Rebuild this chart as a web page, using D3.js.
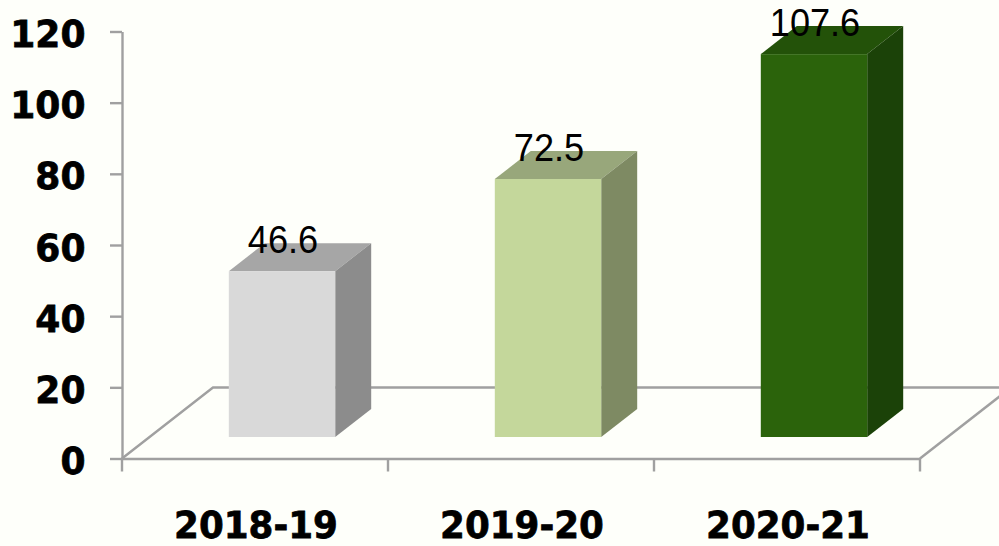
<!DOCTYPE html>
<html>
<head>
<meta charset="utf-8">
<script src="https://cdn.jsdelivr.net/npm/d3@7"></script>
<style>
  html, body { margin: 0; padding: 0; background: #fefffa; overflow: hidden; }
  svg { display: block; }
  .axis text { font-family: "DejaVu Sans", sans-serif; font-weight: bold; fill: #000; stroke: #000; stroke-width: 0.7px; }
</style>
</head>
<body>
<svg id="chart" width="999" height="546"></svg>
<script>
// 데이터
const categories = ["2018-19", "2019-20", "2020-21"];
const values = [46.6, 72.5, 107.6];
const yTicks = [0, 20, 40, 60, 80, 100, 120];
const frontColors = ["#d9d9d9", "#c4d79b", "#2b630b"];
const topColors = ["#a6a6a6", "#98a77b", "#235209"];
const sideColors = ["#8c8c8c", "#7e8a63", "#1b4208"];

const svg = d3.select("#chart");
const axisColor = "#a0a0a0";
const axisWidth = 2.4;

// 스케일
const x = d3.scaleBand().domain(categories).range([122, 920]).paddingInner(0).paddingOuter(0);
const y = d3.scaleLinear().domain([0, 120]).range([458.5, 31.5]);

// 3D 깊이
const floorDx = 91, floorDy = -71;
const barShiftX = 27, barShiftY = -21.5;
const barDepthX = 36, barDepthY = -28;
const barWidth = x.bandwidth() * 0.4;

// 바닥 선
const floor = svg.append("g").attr("fill", "none").attr("stroke", axisColor).attr("stroke-width", axisWidth);
floor.append("path").attr("d", `M${x.range()[0]},${y(0)}L${x.range()[0] + floorDx},${y(0) + floorDy}L1010,${y(0) + floorDy}`);
floor.append("path").attr("d", `M${x.range()[1]},${y(0)}l${floorDx},${floorDy}`);

// y축
const yAxis = svg.append("g").attr("class", "axis")
    .attr("transform", `translate(${x.range()[0]},0)`)
    .call(d3.axisLeft(y).tickValues(yTicks).tickSize(12).tickSizeOuter(0));
yAxis.selectAll("text")
    .style("font-size", "35px")
    .attr("x", 0).attr("dy", 0)
    .attr("transform", "translate(-36.5,15) scale(1.03,1.08)");

// x축
const xAxis = svg.append("g").attr("class", "axis")
    .attr("transform", `translate(0,${y(0)})`)
    .call(d3.axisBottom(x).tickSize(0).tickPadding(0).tickSizeOuter(0));
xAxis.selectAll(".tick line").remove();
xAxis.selectAll("text")
    .style("font-size", "35px")
    .attr("y", 0).attr("dy", 0)
    .attr("transform", "translate(1,79) scale(1.02,1.08)");
xAxis.selectAll(".tick-edge")
    .data(d3.range(categories.length + 1))
    .enter().append("line")
    .attr("class", "tick-edge")
    .attr("x1", i => x.range()[0] + i * x.step())
    .attr("x2", i => x.range()[0] + i * x.step())
    .attr("y1", 0).attr("y2", 13)
    .attr("stroke", axisColor).attr("stroke-width", axisWidth);

svg.selectAll(".axis path.domain, .axis .tick line")
    .attr("stroke", axisColor).attr("stroke-width", axisWidth);

// 막대
const bars = svg.selectAll(".bar")
    .data(values)
    .enter().append("g")
    .attr("class", "bar");

const left = (d, i) => x(categories[i]) + (x.bandwidth() - barWidth) / 2 + barShiftX;
const top3d = d => y(d) + barShiftY;
const bottom3d = y(0) + barShiftY;

bars.append("path") // 윗면
    .attr("fill", (d, i) => topColors[i])
    .attr("d", (d, i) => `M${left(d, i)},${top3d(d)}l${barDepthX},${barDepthY}h${barWidth}l${-barDepthX},${-barDepthY}Z`);

bars.append("path") // 옆면
    .attr("fill", (d, i) => sideColors[i])
    .attr("d", (d, i) => {
        const r = left(d, i) + barWidth;
        return `M${r},${top3d(d)}l${barDepthX},${barDepthY}V${bottom3d + barDepthY}L${r},${bottom3d}Z`;
    });

bars.append("rect") // 앞면
    .attr("fill", (d, i) => frontColors[i])
    .attr("x", left)
    .attr("y", top3d)
    .attr("width", barWidth)
    .attr("height", d => bottom3d - top3d(d));

// 값 라벨
bars.append("text")
    .attr("transform", (d, i) => `translate(${left(d, i) + barWidth / 2 + 1},${top3d(d) - 18}) scale(0.915,1)`)
    .attr("text-anchor", "middle")
    .attr("font-family", "'Liberation Sans', sans-serif")
    .attr("font-size", 39.5)
    .attr("fill", "#000")
    .text(d => d);
</script>
</body>
</html>
